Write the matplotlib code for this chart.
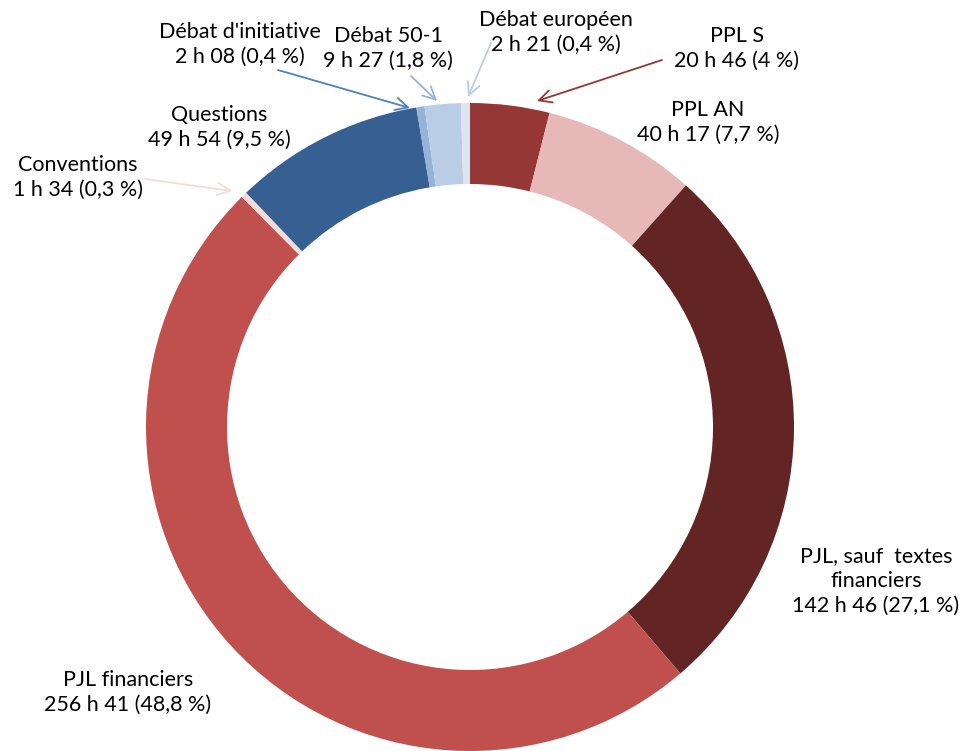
import matplotlib
matplotlib.use("Agg")
import matplotlib.pyplot as plt

categories = ["PPL S", "PPL AN", "PJL, sauf  textes\nfinanciers", "PJL financiers",
              "Conventions", "Questions", "Débat d'initiative", "Débat 50-1", "Débat européen"]
minutes = [20*60+46, 40*60+17, 142*60+46, 256*60+41, 1*60+34, 49*60+54, 2*60+8, 9*60+27, 2*60+21]
value_labels = ["20 h 46 (4 %)", "40 h 17 (7,7 %)", "142 h 46 (27,1 %)", "256 h 41 (48,8 %)",
                "1 h 34 (0,3 %)", "49 h 54 (9,5 %)", "2 h 08 (0,4 %)", "9 h 27 (1,8 %)", "2 h 21 (0,4 %)"]
colors = ["#953735", "#E6B9B8", "#632523", "#C0504D", "#F2DCDB",
          "#366092", "#95B3D7", "#B9CDE5", "#DCE6F2"]

W, H = 965, 751
fig = plt.figure(figsize=(W/100, H/100), dpi=100)
ax = fig.add_axes([0, 0, 1, 1])

cx, cy, R = 470, H - 427, 324
ax.pie(minutes, colors=colors, startangle=90, counterclock=False,
       radius=R, center=(cx, cy), frame=True,
       wedgeprops=dict(width=81, edgecolor="none", linewidth=0))
ax.set_xlim(0, W)
ax.set_ylim(0, H)
ax.set_aspect("equal")
ax.axis("off")

font = "Lato"
fs = 15.5
# label positions (pixel coords, y from top)
label_pos = {
    "PPL S": (737, 48),
    "PPL AN": (708, 122),
    "PJL, sauf  textes\nfinanciers": (876, 581),
    "PJL financiers": (128, 692),
    "Conventions": (78, 177),
    "Questions": (219, 127),
    "Débat d'initiative": (240, 44),
    "Débat 50-1": (388, 48),
    "Débat européen": (556, 32),
}
for cat, val in zip(categories, value_labels):
    x, y = label_pos[cat]
    ax.text(x, H - y, cat + "\n" + val, ha="center", va="center", fontsize=fs,
            family=font, color="black", linespacing=1.3)

arrows = [
    ((662, 60), (537, 101), "#953735"),
    ((278, 70), (410, 108), "#4F81BD"),
    ((411, 76), (437, 101), "#95B3D7"),
    ((491, 43), (468, 97), "#B9CDE5"),
    ((145, 179), (232, 191), "#F2DCDB"),
]
for (x0, y0), (x1, y1), c in arrows:
    ax.annotate("", xy=(x1, H - y1), xytext=(x0, H - y0),
                arrowprops=dict(arrowstyle="->,head_length=0.9,head_width=0.45",
                                color=c, lw=1.3, shrinkA=0, shrinkB=0))

fig.savefig("out.png", dpi=100)
